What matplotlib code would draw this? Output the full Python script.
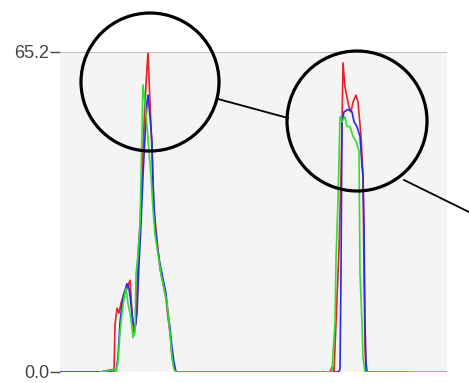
import matplotlib
matplotlib.use('Agg')
import matplotlib.pyplot as plt
from matplotlib.patches import Circle

# spectrum samples (x = sample index, y = intensity)
red_x = [40, 52, 54, 55, 57, 59, 61, 64, 67, 70, 72, 74, 76, 78, 80, 83, 85, 87, 88, 89, 90, 92, 94, 96,
         98, 100, 103, 106, 108, 110, 112, 114, 116, 270, 272, 274, 276, 279, 281, 282, 283, 285, 287,
         289, 291, 293, 296, 298, 299, 301, 302, 303, 304, 305, 306, 315]
red_y = [0, 0.5, 0, 9.6, 13, 12, 14, 16, 17, 18.7, 12, 8, 10, 24, 30, 45, 55, 62, 65.2, 60, 55, 45, 33, 29,
         25, 21, 18, 15, 11, 8, 3, 1, 0, 0, 1, 0, 10, 25, 40, 50, 63, 58, 56,
         54, 53, 55, 56.4, 55, 52.7, 48, 44, 40, 20, 5, 0, 0]

blue_x = [0, 50, 53, 56, 58, 60, 62, 64, 67, 69, 71, 73, 75, 77, 79, 81, 83, 85, 87, 88, 90, 92, 93, 95,
          97, 100, 103, 106, 108, 110, 112, 114, 116, 278, 280, 281, 282, 284, 288, 292, 294, 297, 300,
          301, 302, 303, 304, 305, 306, 307, 348]
blue_y = [0, 0, 0.5, 0, 3, 10, 14, 16, 18, 17, 14, 10, 9, 12, 22, 30, 40, 48, 55, 56.4, 52, 47, 38, 30,
          26, 22, 19, 16, 12, 9, 5, 2, 0, 0, 0.5, 20, 51, 53, 53.5, 53, 51, 50, 48,
          45, 42, 40, 30, 10, 2, 0, 0]

green_x = [40, 54, 56, 58, 60, 62, 64, 66, 68, 70, 72, 73, 75, 76, 78, 80, 81, 83, 85, 87, 89, 91, 93, 95,
           98, 101, 104, 107, 110, 112, 114, 116, 272, 273, 275, 276, 278, 280, 282, 285, 287, 290,
           293, 296, 299, 300, 302, 303, 305, 387]
green_y = [0, 0.5, 0, 2, 8, 12, 15, 17, 14, 12, 9, 7, 8, 20, 24, 30, 40, 58.5, 55, 50, 45, 40, 33, 28,
           24, 20, 17, 14, 8, 3, 0.5, 0, 0, 4, 10, 23, 35, 52, 51, 52, 50, 50,
           48, 47, 45, 20, 10, 3, 0, 0]

y_max = 65.2

W, H = 469, 383
fig = plt.figure(figsize=(W / 100, H / 100), dpi=100)
ax = fig.add_axes([60 / W, (H - 372) / H, 387 / W, 320 / H])
ax.set_facecolor('#f4f4f4')
for s in ax.spines.values():
    s.set_visible(False)

ax.plot(red_x, red_y, color='#e8202a', lw=1.2)
ax.plot(blue_x, blue_y, color='#2a2ae6', lw=1.2)
ax.plot(green_x, green_y, color='#30e030', lw=1.2)
ax.axhline(y_max, color='#b4b4b4', lw=1.2)

ax.set_xlim(0, 387)
ax.set_ylim(0, y_max)
ax.set_xticks([])
ax.set_yticks([0, y_max])
ax.set_yticklabels(['0.0', '65.2'], family='Liberation Sans', fontsize=13, color='#444444')
ax.tick_params(axis='y', length=7, width=1, color='#444444', pad=1)

# magnifier circles drawn over the whole figure in pixel coordinates
ov = fig.add_axes([0, 0, 1, 1])
ov.set_xlim(0, W)
ov.set_ylim(H, 0)
ov.axis('off')
ov.patch.set_alpha(0)
ov.add_patch(Circle((150, 82), 69, fill=False, lw=2.3, color='black'))
ov.add_patch(Circle((357, 121), 70, fill=False, lw=2.3, color='black'))
ov.plot([218, 288], [99, 118], color='black', lw=1.3)
ov.plot([404, 469], [180, 212], color='black', lw=1.3)

fig.savefig('out.png', dpi=100)
